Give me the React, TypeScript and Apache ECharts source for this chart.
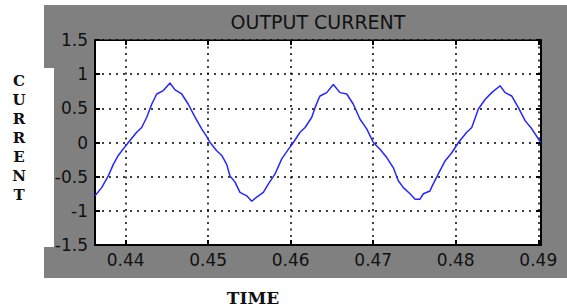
import React, { useEffect, useRef } from "react";
import * as echarts from "echarts";

const timeValues = [
  0.43628, 0.43709, 0.43789, 0.4385, 0.4391, 0.43992, 0.44032, 0.44133, 0.44194, 0.44255,
  0.44315, 0.44376, 0.44456, 0.44537, 0.44598, 0.44679, 0.44759, 0.4484, 0.44921, 0.44981,
  0.45022, 0.45103, 0.45164, 0.45224, 0.45264, 0.45325, 0.45385, 0.45467, 0.45527, 0.45588,
  0.45668, 0.45728, 0.4581, 0.45891, 0.45971, 0.46032, 0.46113, 0.46174, 0.46255, 0.46295,
  0.46335, 0.46355, 0.46436, 0.46516, 0.46597, 0.46679, 0.46759, 0.4684, 0.46921, 0.47001,
  0.47082, 0.47164, 0.47244, 0.47304, 0.47365, 0.47446, 0.47507, 0.47567, 0.47607, 0.47688,
  0.47709, 0.47789, 0.4787, 0.47952, 0.48032, 0.48133, 0.48194, 0.48274, 0.48355, 0.48436,
  0.48537, 0.48598, 0.48679, 0.48759, 0.4884, 0.48921, 0.4903,
];
const currentValues = [
  -0.78, -0.66, -0.49, -0.32, -0.19, -0.06, 0, 0.15, 0.22, 0.37,
  0.56, 0.71, 0.76, 0.87, 0.77, 0.71, 0.56, 0.37, 0.2, 0.09,
  0, -0.12, -0.19, -0.32, -0.49, -0.58, -0.73, -0.78, -0.86, -0.8,
  -0.73, -0.61, -0.46, -0.24, -0.1, 0, 0.15, 0.22, 0.37, 0.51,
  0.63, 0.68, 0.73, 0.85, 0.73, 0.71, 0.56, 0.34, 0.2, 0,
  -0.1, -0.22, -0.37, -0.56, -0.66, -0.75, -0.83, -0.83, -0.75, -0.71,
  -0.65, -0.46, -0.27, -0.15, 0, 0.15, 0.22, 0.49, 0.63, 0.73,
  0.83, 0.73, 0.68, 0.51, 0.32, 0.2, 0,
];
const xTicks = [0.44, 0.45, 0.46, 0.47, 0.48, 0.49];
const xMin = 0.43628;
const xMax = 0.49033;
const yMin = -1.5;
const yMax = 1.5;
const yStep = 0.5;
const titleText = "OUTPUT CURRENT";
const yLabel = "CURRENT";
const xLabel = "TIME";

export default function App() {
  const ref = useRef<HTMLDivElement>(null);
  useEffect(() => {
    if (!ref.current) return;
    const chart = echarts.init(ref.current, null, { renderer: "svg" });
    const data = timeValues.map((t, i) => [t, currentValues[i]]);
    const hDotted = { color: "#000", width: 1.5, type: [2, 5] as number[] };
    const vDotted = { color: "#000", width: 1.5, type: [2, 4.5] as number[] };
    chart.setOption({
      animation: false,
      backgroundColor: "#fff",
      graphic: [
        {
          type: "polygon",
          z: -10,
          shape: {
            points: [
              [44, 5], [567, 5], [567, 278], [44, 278], [44, 247], [54, 247], [54, 68], [44, 68],
            ],
          },
          style: { fill: "#808080" },
          silent: true,
        },
        {
          type: "text",
          x: 318,
          y: 22,
          style: {
            text: titleText,
            fill: "#111",
            font: "19px 'DejaVu Sans'",
            align: "center",
            verticalAlign: "middle",
          },
        },
        {
          type: "text",
          x: 19,
          y: 138,
          style: {
            text: yLabel.split("").join("\n"),
            fill: "#111",
            font: "bold 15px 'DejaVu Serif'",
            lineHeight: 19,
            align: "center",
            verticalAlign: "middle",
          },
        },
        {
          type: "text",
          x: 253,
          y: 298,
          style: {
            text: xLabel,
            fill: "#111",
            font: "bold 17px 'DejaVu Serif'",
            align: "center",
            verticalAlign: "middle",
          },
        },
      ],
      grid: {
        left: 95,
        top: 40,
        right: 26,
        bottom: 63,
        show: true,
        backgroundColor: "#fff",
        borderColor: "#000",
        borderWidth: 1,
      },
      xAxis: [
        {
          type: "value",
          min: xMin,
          max: xMax,
          position: "bottom",
          axisLine: { show: true, onZero: false, lineStyle: { color: "#000", width: 2 } },
          axisTick: { show: true, inside: true, length: 5, customValues: xTicks, lineStyle: { color: "#000", width: 2 } },
          axisLabel: {
            customValues: xTicks,
            formatter: (v: number) => v.toFixed(2),
            color: "#111",
            fontFamily: "DejaVu Sans",
            fontSize: 17,
            margin: 6,
          },
          splitLine: { show: true, customValues: xTicks, lineStyle: vDotted },
        },
        {
          type: "value",
          min: xMin,
          max: xMax,
          position: "top",
          axisLine: { show: true, onZero: false, lineStyle: { color: "#000", width: 1 } },
          axisTick: { show: true, inside: true, length: 5, customValues: xTicks, lineStyle: { color: "#000", width: 2 } },
          axisLabel: { show: false },
          splitLine: { show: false },
        },
      ],
      yAxis: [
        {
          type: "value",
          min: yMin,
          max: yMax,
          interval: yStep,
          position: "left",
          axisLine: { show: true, onZero: false, lineStyle: { color: "#000", width: 2 } },
          axisTick: { show: true, inside: true, length: 5, lineStyle: { color: "#000", width: 2 } },
          axisLabel: {
            formatter: (v: number) => String(v),
            color: "#111",
            fontFamily: "DejaVu Sans",
            fontSize: 17,
            margin: 7,
          },
          splitLine: { show: true, lineStyle: hDotted },
        },
        {
          type: "value",
          min: yMin,
          max: yMax,
          interval: yStep,
          position: "right",
          axisLine: { show: true, onZero: false, lineStyle: { color: "#000", width: 2 } },
          axisTick: { show: true, inside: true, length: 5, lineStyle: { color: "#000", width: 2 } },
          axisLabel: { show: false },
          splitLine: { show: false },
        },
      ],
      series: [
        {
          type: "line",
          data,
          xAxisIndex: 0,
          yAxisIndex: 0,
          showSymbol: false,
          smooth: false,
          lineStyle: { color: "#2626ff", width: 1.5 },
        },
      ],
    });
    return () => chart.dispose();
  }, []);
  return (
    <div
      ref={ref}
      style={{ position: "fixed", left: 0, top: 0, width: 567, height: 308 }}
    />
  );
}
